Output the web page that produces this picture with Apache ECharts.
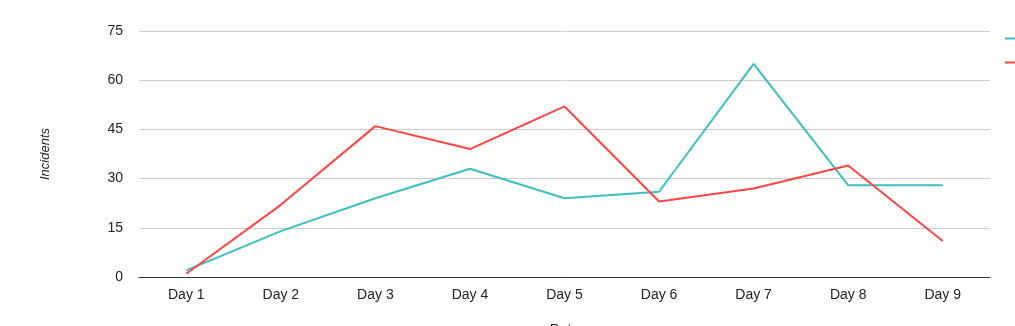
<!DOCTYPE html>
<html>
<head>
<meta charset="utf-8">
<script src="https://cdn.jsdelivr.net/npm/echarts@6/dist/echarts.min.js"></script>
<style>
  html, body { margin: 0; padding: 0; background: #fff; }
  #chart { width: 1015px; height: 326px; }
</style>
</head>
<body>
<div id="chart"></div>
<script>
// Daily incident counts for two series
const days = ['Day 1', 'Day 2', 'Day 3', 'Day 4', 'Day 5', 'Day 6', 'Day 7', 'Day 8', 'Day 9'];
const reported = [2, 14, 24, 33, 24, 26, 65, 28, 28];
const resolved = [1, 22, 46, 39, 52, 23, 27, 34, 11];
const yTicks = [0, 15, 30, 45, 60, 75];

const font = 'Liberation Sans, Arial, sans-serif';
const chart = echarts.init(document.getElementById('chart'), null, { renderer: 'canvas' });

chart.setOption({
  animation: false,
  textStyle: { fontFamily: font },
  grid: { left: 139, right: 25, top: 31, bottom: 49, containLabel: false, outerBoundsMode: 'none' },
  legend: {
    orient: 'vertical',
    left: 1000,
    top: 27,
    itemWidth: 10,
    itemHeight: 2,
    itemGap: 11,
    icon: 'rect',
    textStyle: { fontSize: 13, color: '#222' },
    data: ['Reported', 'Resolved']
  },
  xAxis: {
    type: 'category',
    data: days,
    boundaryGap: true,
    name: 'Date',
    nameLocation: 'middle',
    nameGap: 46,
    nameTextStyle: { fontSize: 14, color: '#222', fontFamily: font },
    axisLine: { lineStyle: { color: '#333', width: 1 } },
    axisTick: { show: false },
    axisLabel: { fontSize: 14, color: '#222', margin: 11, fontFamily: font }
  },
  yAxis: {
    type: 'value',
    min: yTicks[0],
    max: yTicks[yTicks.length - 1],
    interval: 15,
    name: 'Incidents',
    nameLocation: 'middle',
    nameGap: 87,
    nameTextStyle: { fontSize: 13, color: '#222', fontStyle: 'italic', fontFamily: font },
    axisLine: { show: false },
    axisTick: { show: false },
    axisLabel: { fontSize: 14, color: '#222', margin: 16, fontFamily: font },
    splitLine: { lineStyle: { color: '#cccccc', width: 1 } }
  },
  series: [
    {
      name: 'Reported',
      type: 'line',
      data: reported,
      showSymbol: false,
      color: '#3dbfbf',
      lineStyle: { width: 2, color: '#3dbfbf' }
    },
    {
      name: 'Resolved',
      type: 'line',
      data: resolved,
      showSymbol: false,
      color: '#ff4444',
      lineStyle: { width: 2, color: '#ff4444' }
    }
  ]
});
</script>
</body>
</html>
